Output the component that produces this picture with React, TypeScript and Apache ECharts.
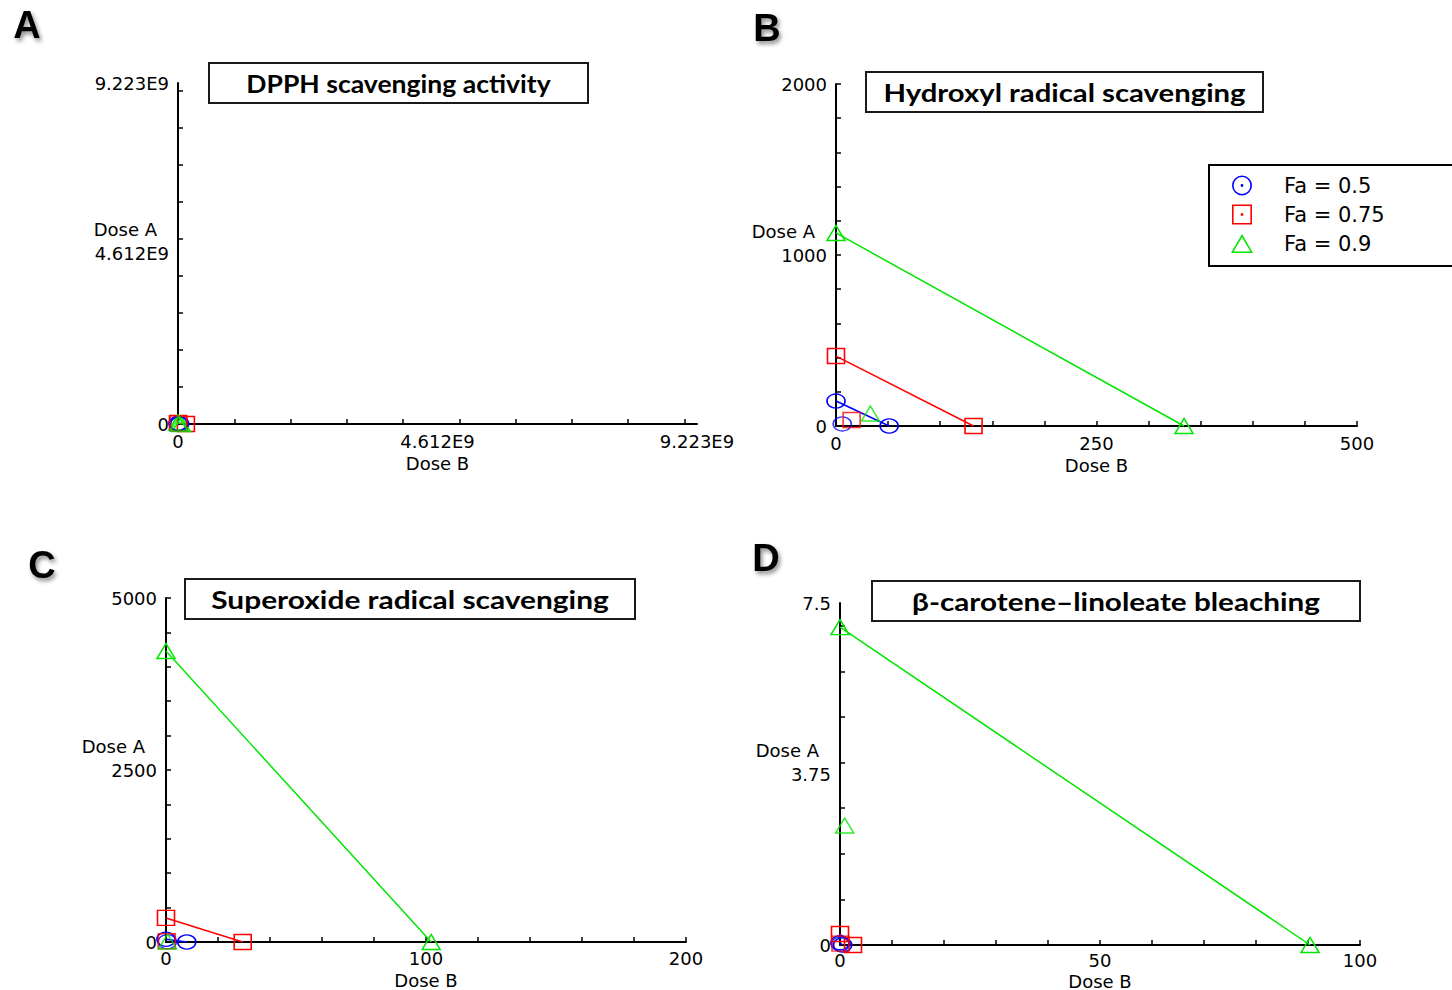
import React, { useEffect, useRef } from "react";
import * as echarts from "echarts";

// ---------- Data ----------
const FA_NAMES = ["Fa = 0.5", "Fa = 0.75", "Fa = 0.9"];

// Panel A — DPPH scavenging activity
const A_TITLE = "DPPH scavenging activity";
const A_X_MAX = 9.223e9;
const A_Y_MAX = 9.223e9;
const A_X_TICKS = [1e9, 2e9, 3e9, 4e9, 5e9, 6e9, 7e9, 8e9, 9e9];
const A_Y_TICKS = [1e9, 2e9, 3e9, 4e9, 5e9, 6e9, 7e9, 8e9, 9e9];
const A_X_LABEL_VALUES = [0, 4.612e9, 9.223e9];
const A_X_LABELS = ["0", "4.612E9", "9.223E9"];
const A_Y_LABEL_VALUES = [0, 4.612e9, 9.223e9];
const A_Y_LABELS = ["0", "4.612E9", "9.223E9"];
const A_DOSE_A_ALONE = [2.0e7, 3.0e7, 4.0e7];
const A_DOSE_B_ALONE = [3.0e7, 1.4e8, 6.0e7];
const A_COMBO_A = [1.0e7, 1.0e7, 1.0e7];
const A_COMBO_B = [1.0e7, 1.0e7, 2.0e7];

// Panel B — Hydroxyl radical scavenging
const B_TITLE = "Hydroxyl radical scavenging";
const B_X_MAX = 500;
const B_Y_MAX = 2000;
const B_X_TICKS = [50, 100, 150, 200, 250, 300, 350, 400, 450, 500];
const B_Y_TICKS = [200, 400, 600, 800, 1000, 1200, 1400, 1600, 1800, 2000];
const B_X_LABEL_VALUES = [0, 250, 500];
const B_X_LABELS = ["0", "250", "500"];
const B_Y_LABEL_VALUES = [0, 1000, 2000];
const B_Y_LABELS = ["0", "1000", "2000"];
const B_DOSE_A_ALONE = [146, 409, 1129];
const B_DOSE_B_ALONE = [51, 132, 334];
const B_COMBO_A = [12, 35, 73];
const B_COMBO_B = [6, 15, 33];

// Panel C — Superoxide radical scavenging
const C_TITLE = "Superoxide radical scavenging";
const C_X_MAX = 200;
const C_Y_MAX = 5000;
const C_X_TICKS = [20, 40, 60, 80, 100, 120, 140, 160, 180, 200];
const C_Y_TICKS = [500, 1000, 1500, 2000, 2500, 3000, 3500, 4000, 4500, 5000];
const C_X_LABEL_VALUES = [0, 100, 200];
const C_X_LABELS = ["0", "100", "200"];
const C_Y_LABEL_VALUES = [0, 2500, 5000];
const C_Y_LABELS = ["0", "2500", "5000"];
const C_DOSE_A_ALONE = [40, 350, 4230];
const C_DOSE_B_ALONE = [8, 29.5, 102];
const C_COMBO_A = [5, 10, 8];
const C_COMBO_B = [0.5, 0.3, 0.6];

// Panel D — β-carotene–linoleate bleaching
const D_TITLE = "β-carotene–linoleate bleaching";
const D_X_MAX = 100;
const D_Y_MAX = 7.5;
const D_X_TICKS = [10, 20, 30, 40, 50, 60, 70, 80, 90, 100];
const D_Y_TICKS = [1, 2, 3, 4, 5, 6, 7];
const D_X_LABEL_VALUES = [0, 50, 100];
const D_X_LABELS = ["0", "50", "100"];
const D_Y_LABEL_VALUES = [0, 3.75, 7.5];
const D_Y_LABELS = ["0", "3.75", "7.5"];
const D_DOSE_A_ALONE = [0.05, 0.24, 6.97];
const D_DOSE_B_ALONE = [0.5, 2.5, 90.4];
const D_COMBO_A = [0.02, 0.03, 2.62];
const D_COMBO_B = [0.1, 0.1, 0.9];

// ---------- Styles ----------
const COLORS = ["#0000ff", "#ff0000", "#00e600"];
const SYMBOLS = ["circle", "rect", "triangle"];
const SYMBOL_SIZES: any[] = [[18, 14], [17, 15], [18, 15]];
const AXIS_FONT = "'DejaVu Sans', Verdana, sans-serif";
const TITLE_FONT = "Lato, 'Open Sans', 'DejaVu Sans', sans-serif";

const ICON_CIRCLE =
  "path://M0,-10 A10,10 0 1,1 0,10 A10,10 0 1,1 0,-10 Z M0,-8.4 A8.4,8.4 0 1,0 0,8.4 A8.4,8.4 0 1,0 0,-8.4 Z M0,-1.4 A1.4,1.4 0 1,1 0,1.4 A1.4,1.4 0 1,1 0,-1.4 Z";
const ICON_SQUARE =
  "path://M-10,-10 L10,-10 L10,10 L-10,10 Z M-8.4,-8.4 L-8.4,8.4 L8.4,8.4 L8.4,-8.4 Z M-1.3,-1.3 L1.3,-1.3 L1.3,1.3 L-1.3,1.3 Z";
const ICON_TRIANGLE =
  "path://M0,-10 L11,9 L-11,9 Z M0,-6.8 L-8.4,7.5 L8.4,7.5 Z";
const LEGEND_ICONS = [ICON_CIRCLE, ICON_SQUARE, ICON_TRIANGLE];

const PANELS = [
  {
    letter: "A", letterPos: [27, 25], titleBox: [209, 63, 379, 40], title: A_TITLE, titleScale: 1.106,
    grid: { left: 178, top: 83, width: 519, height: 341 }, xNameGap: 30, xLabelMargin: 8,
    xMax: A_X_MAX, yMax: A_Y_MAX, xTicks: A_X_TICKS, yTicks: A_Y_TICKS,
    xLabVals: A_X_LABEL_VALUES, xLabs: A_X_LABELS, yLabVals: A_Y_LABEL_VALUES, yLabs: A_Y_LABELS,
    doseA: A_DOSE_A_ALONE, doseB: A_DOSE_B_ALONE, comboA: A_COMBO_A, comboB: A_COMBO_B,
  },
  {
    letter: "B", letterPos: [767, 28], titleBox: [866, 72, 397, 40], title: B_TITLE, titleScale: 1.22,
    grid: { left: 836, top: 84, width: 521, height: 342 }, xNameGap: 30, xLabelMargin: 8,
    xMax: B_X_MAX, yMax: B_Y_MAX, xTicks: B_X_TICKS, yTicks: B_Y_TICKS,
    xLabVals: B_X_LABEL_VALUES, xLabs: B_X_LABELS, yLabVals: B_Y_LABEL_VALUES, yLabs: B_Y_LABELS,
    doseA: B_DOSE_A_ALONE, doseB: B_DOSE_B_ALONE, comboA: B_COMBO_A, comboB: B_COMBO_B,
  },
  {
    letter: "C", letterPos: [42, 565], titleBox: [185, 579, 450, 40], title: C_TITLE, titleScale: 1.245,
    grid: { left: 166, top: 598, width: 520, height: 344 }, xNameGap: 29, xLabelMargin: 7,
    xMax: C_X_MAX, yMax: C_Y_MAX, xTicks: C_X_TICKS, yTicks: C_Y_TICKS,
    xLabVals: C_X_LABEL_VALUES, xLabs: C_X_LABELS, yLabVals: C_Y_LABEL_VALUES, yLabs: C_Y_LABELS,
    doseA: C_DOSE_A_ALONE, doseB: C_DOSE_B_ALONE, comboA: C_COMBO_A, comboB: C_COMBO_B,
  },
  {
    letter: "D", letterPos: [766, 558], titleBox: [872, 581, 488, 40], title: D_TITLE, titleScale: 1.236,
    grid: { left: 840, top: 603, width: 520, height: 342 }, xNameGap: 27, xLabelMargin: 6,
    xMax: D_X_MAX, yMax: D_Y_MAX, xTicks: D_X_TICKS, yTicks: D_Y_TICKS,
    xLabVals: D_X_LABEL_VALUES, xLabs: D_X_LABELS, yLabVals: D_Y_LABEL_VALUES, yLabs: D_Y_LABELS,
    doseA: D_DOSE_A_ALONE, doseB: D_DOSE_B_ALONE, comboA: D_COMBO_A, comboB: D_COMBO_B,
  },
];

function labelFormatter(vals: number[], labs: string[]) {
  return (v: number) => {
    const i = vals.findIndex((x) => Math.abs(x - v) <= 1e-6 * Math.max(1, Math.abs(x)));
    return i >= 0 ? labs[i] : "";
  };
}

function buildOption() {
  const grids: any[] = [];
  const xAxes: any[] = [];
  const yAxes: any[] = [];
  const series: any[] = [];
  const graphics: any[] = [];

  PANELS.forEach((p, pi) => {
    grids.push({ ...p.grid, containLabel: false, outerBoundsMode: "none", show: false });
    xAxes.push({
      type: "value", gridIndex: pi, min: 0, max: p.xMax, position: "bottom",
      name: "Dose B", nameLocation: "middle", nameGap: p.xNameGap, nameMoveOverlap: false,
      nameTextStyle: { fontFamily: AXIS_FONT, fontSize: 18, lineHeight: 18, color: "#000" },
      axisLine: { show: true, onZero: false, lineStyle: { color: "#000", width: 2 } },
      axisTick: { show: true, inside: true, length: 5, lineStyle: { color: "#000", width: 1.5 }, customValues: p.xTicks },
      axisLabel: {
        show: true, margin: p.xLabelMargin, fontFamily: AXIS_FONT, fontSize: 18, lineHeight: 18, color: "#000",
        customValues: p.xLabVals, formatter: labelFormatter(p.xLabVals, p.xLabs),
        showMinLabel: true, showMaxLabel: true, hideOverlap: false,
      },
      splitLine: { show: false },
    });
    yAxes.push({
      type: "value", gridIndex: pi, min: 0, max: p.yMax, position: "left",
      name: "{n|Dose A}", nameLocation: "middle", nameRotate: 0, nameGap: 21, nameMoveOverlap: false,
      nameTextStyle: {
        fontFamily: AXIS_FONT, fontSize: 18, color: "#000", verticalAlign: "bottom", align: "right",
        rich: { n: { fontFamily: AXIS_FONT, fontSize: 18, color: "#000", padding: [0, 0, 15, 0] } },
      },
      axisLine: { show: true, onZero: false, lineStyle: { color: "#000", width: 2 } },
      axisTick: { show: true, inside: true, length: 5, lineStyle: { color: "#000", width: 1.5 }, customValues: p.yTicks },
      axisLabel: {
        show: true, margin: 9, fontFamily: AXIS_FONT, fontSize: 18, color: "#000",
        customValues: p.yLabVals, formatter: labelFormatter(p.yLabVals, p.yLabs),
        showMinLabel: true, showMaxLabel: true, hideOverlap: false,
      },
      splitLine: { show: false },
    });

    FA_NAMES.forEach((name, i) => {
      const common = {
        name, xAxisIndex: pi, yAxisIndex: pi, symbol: SYMBOLS[i], symbolSize: SYMBOL_SIZES[i],
        itemStyle: { color: "none", borderColor: COLORS[i], borderWidth: 1.5 },
        clip: false, animation: false, silent: true,
        emphasis: { disabled: true },
      };
      series.push({
        ...common, type: "line", z: 3,
        showSymbol: true, showAllSymbol: true,
        lineStyle: { color: COLORS[i], width: 1.5 },
        data: [[0, p.doseA[i]], [p.doseB[i], 0]],
      });
      series.push({
        ...common, type: "scatter", z: 4,
        data: [[p.comboB[i], p.comboA[i]]],
      });
    });

    const [bx, by, bw, bh] = p.titleBox;
    graphics.push({
      type: "group", silent: true,
      children: [
        {
          type: "rect", shape: { x: bx, y: by, width: bw, height: bh },
          style: { fill: "#fff", stroke: "#1a1a1a", lineWidth: 2 },
        },
        {
          type: "text", x: bx + bw / 2, y: by + bh / 2 + 1, scaleX: p.titleScale,
          style: {
            text: p.title, fill: "#000", font: `bold 24px ${TITLE_FONT}`,
            align: "center", verticalAlign: "middle", textAlign: "center", textVerticalAlign: "middle",
          },
        },
      ],
    });
    graphics.push({
      type: "text", x: p.letterPos[0], y: p.letterPos[1], silent: true,
      style: {
        text: p.letter, fill: "#000", font: "bold 38px 'Liberation Sans', Arial, sans-serif",
        align: "center", verticalAlign: "middle", textAlign: "center", textVerticalAlign: "middle",
        textShadowColor: "rgba(0,0,0,0.45)", textShadowBlur: 4, textShadowOffsetX: 2, textShadowOffsetY: 3,
      },
    });
  });

  return {
    animation: false,
    backgroundColor: "#ffffff",
    textStyle: { fontFamily: AXIS_FONT },
    grid: grids,
    xAxis: xAxes,
    yAxis: yAxes,
    series,
    graphic: graphics,
    legend: {
      show: true, orient: "vertical", left: 1209, top: 165,
      selectedMode: false,
      itemWidth: 22, itemHeight: 20, itemGap: 8,
      padding: [10, 90, 12, 22],
      borderColor: "#000", borderWidth: 2, backgroundColor: "#fff",
      textStyle: { fontFamily: AXIS_FONT, fontSize: 21, color: "#000", padding: [0, 0, 0, 26] },
      data: FA_NAMES.map((n, i) => ({
        name: n, icon: LEGEND_ICONS[i],
        itemStyle: { color: COLORS[i], borderWidth: 0, borderColor: COLORS[i] },
      })),
    },
  };
}

export default function App() {
  const ref = useRef<HTMLDivElement>(null);
  useEffect(() => {
    if (!ref.current) return;
    const chart = echarts.init(ref.current, null, { renderer: "svg" });
    chart.setOption(buildOption() as any);
    return () => chart.dispose();
  }, []);
  return (
    <div
      ref={ref}
      style={{ position: "fixed", left: 0, top: 0, width: 1452, height: 990, background: "#fff" }}
    />
  );
}
